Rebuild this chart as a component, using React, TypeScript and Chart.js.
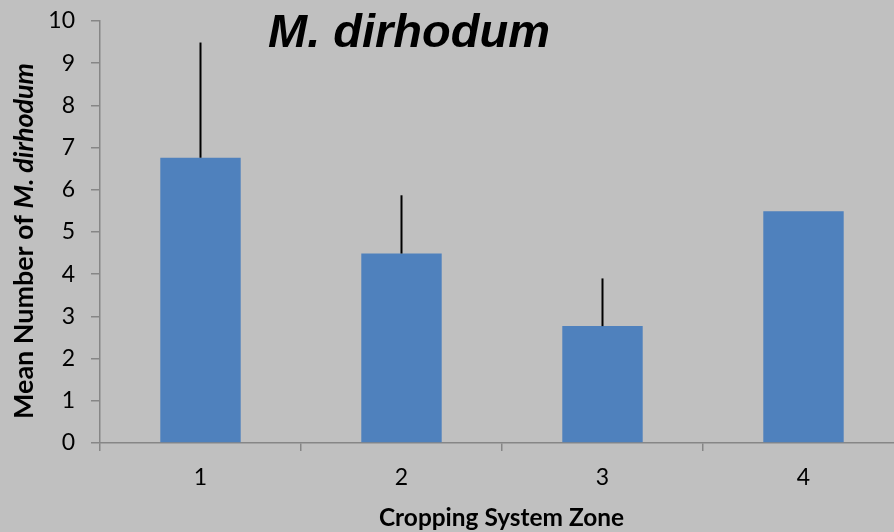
import React, { useEffect, useRef } from "react";
import { Chart, registerables } from "chart.js";

Chart.register(...registerables);

const categories = ["1", "2", "3", "4"];
const meanValues = [6.76, 4.49, 2.77, 5.49];
const errorValues = [2.73, 1.38, 1.13, 0];
const yMin = 0;
const yMax = 10;
const yStep = 1;
const chartTitle = "M. dirhodum";
const xAxisTitle = "Cropping System Zone";
const yAxisTitlePlain = "Mean Number of ";
const yAxisTitleItalic = "M. dirhodum";

const BG = "#c0c0c0";
const BAR = "#4f81bd";
const AXIS = "#868686";

const errorBarPlugin = {
  id: "errorBars",
  afterDatasetsDraw(chart: any) {
    const meta = chart.getDatasetMeta(0);
    const yScale = chart.scales.y;
    const ctx = chart.ctx;
    ctx.save();
    ctx.strokeStyle = "#000";
    ctx.lineWidth = 2;
    meta.data.forEach((el: any, i: number) => {
      const err = errorValues[i];
      if (!err) return;
      const top = yScale.getPixelForValue(meanValues[i] + err);
      ctx.beginPath();
      ctx.moveTo(el.x, el.y);
      ctx.lineTo(el.x, top);
      ctx.stroke();
    });
    ctx.restore();
  },
};

const fitSize = (ctx: any, parts: [string, string][], target: number) => {
  let w = 0;
  parts.forEach(([style, txt]) => {
    ctx.font = `${style} 100px Lato, sans-serif`;
    w += ctx.measureText(txt).width;
  });
  return (100 * target) / w;
};

const textPlugin = {
  id: "texts",
  afterDraw(chart: any) {
    const ctx = chart.ctx;
    ctx.save();
    ctx.fillStyle = "#000";
    // chart title
    ctx.font = "italic bold 47px 'Liberation Sans', Arial, sans-serif";
    ctx.textAlign = "left";
    ctx.textBaseline = "alphabetic";
    ctx.fillText(chartTitle, 268, 47);
    // x axis title
    const xs = fitSize(ctx, [["bold", xAxisTitle]], 245);
    ctx.font = `bold ${xs}px Lato, sans-serif`;
    ctx.fillText(xAxisTitle, 379, 526);
    // y axis title (mixed fonts)
    const ys = fitSize(ctx, [["bold", yAxisTitlePlain], ["italic bold", yAxisTitleItalic]], 356);
    ctx.translate(33, 241);
    ctx.rotate(-Math.PI / 2);
    ctx.font = `bold ${ys}px Lato, sans-serif`;
    const w1 = ctx.measureText(yAxisTitlePlain).width;
    ctx.font = `italic bold ${ys}px Lato, sans-serif`;
    const w2 = ctx.measureText(yAxisTitleItalic).width;
    const start = -(w1 + w2) / 2;
    ctx.font = `bold ${ys}px Lato, sans-serif`;
    ctx.fillText(yAxisTitlePlain, start, 0);
    ctx.font = `italic bold ${ys}px Lato, sans-serif`;
    ctx.fillText(yAxisTitleItalic, start + w1, 0);
    ctx.restore();
  },
};

export default function App() {
  const ref = useRef<HTMLCanvasElement | null>(null);
  useEffect(() => {
    if (!ref.current) return;
    const chart = new Chart(ref.current, {
      type: "bar",
      data: {
        labels: categories,
        datasets: [
          {
            data: meanValues,
            backgroundColor: BAR,
            borderWidth: 0,
            barPercentage: 0.4,
            categoryPercentage: 1.0,
          },
        ],
      },
      options: {
        responsive: false,
        animation: false,
        devicePixelRatio: 1,
        layout: { padding: { top: 21, right: 6, left: 0, bottom: 0 } },
        plugins: {
          legend: { display: false },
          title: { display: false },
          tooltip: { enabled: false },
        },
        scales: {
          x: {
            type: "category",
            grid: {
              display: true,
              drawOnChartArea: false,
              drawTicks: true,
              tickLength: 8,
              color: AXIS,
              lineWidth: 1.5,
              offset: true,
            },
            border: { display: true, color: AXIS, width: 1.5 },
            ticks: {
              color: "#000",
              font: { family: "Lato", size: 23 },
              padding: 13,
              maxRotation: 0,
              autoSkip: false,
            },
            afterFit(scale: any) {
              scale.height = 89;
              scale.paddingLeft = 0;
              scale.paddingRight = 0;
            },
          },
          y: {
            min: yMin,
            max: yMax,
            grid: {
              display: true,
              drawOnChartArea: false,
              drawTicks: true,
              tickLength: 9,
              color: AXIS,
              lineWidth: 1.5,
            },
            border: { display: true, color: AXIS, width: 1.5 },
            ticks: {
              stepSize: yStep,
              color: "#000",
              font: { family: "Lato", size: 23 },
              padding: 16,
            },
            afterFit(scale: any) {
              scale.width = 100;
              scale.paddingTop = 0;
              scale.paddingBottom = 0;
            },
          },
        },
      },
      plugins: [errorBarPlugin, textPlugin],
    });
    return () => chart.destroy();
  }, []);

  return (
    <div
      style={{
        position: "fixed",
        left: 0,
        top: 0,
        width: 894,
        height: 532,
        overflow: "hidden",
        background: BG,
      }}
    >
      <canvas ref={ref} width={910} height={532} style={{ display: "block" }} />
    </div>
  );
}
